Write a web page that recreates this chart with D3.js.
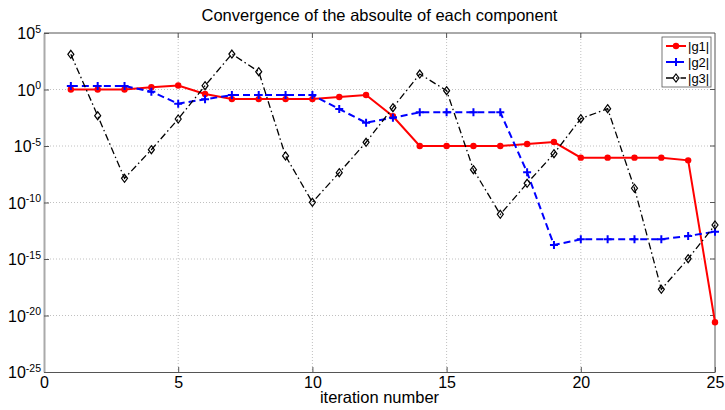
<!DOCTYPE html>
<html>
<head>
<meta charset="utf-8">
<script src="https://cdn.jsdelivr.net/npm/d3@7"></script>
<style>
  body { margin: 0; background: #fff; }
  svg { display: block; font-family: 'Liberation Sans', Arial, sans-serif; }
</style>
</head>
<body>
<svg id="chart" width="725" height="410"></svg>
<script>
const iterations = d3.range(1, 26);

// log10 of |g| per iteration
const g1Log = [0, 0, 0, 0.2, 0.35, -0.4, -0.85, -0.85, -0.85, -0.85, -0.66, -0.49,
  -2.37, -5, -5, -5, -5, -4.82, -4.65, -6.03, -6.03, -6.03, -6.03, -6.27, -20.6];
const g2Log = [0.31, 0.31, 0.31, -0.19, -1.25, -0.87, -0.49, -0.49, -0.49, -0.49, -1.73, -2.94,
  -2.5, -2.02, -2.02, -2.02, -2.02, -7.33, -13.76, -13.26, -13.26, -13.26, -13.26, -12.96, -12.58];
const g3Log = [3.11, -2.32, -7.86, -5.33, -2.61, 0.34, 3.14, 1.58, -5.88, -9.98, -7.36, -4.67,
  -1.61, 1.37, -0.1, -7.1, -11.05, -8.3, -5.68, -2.58, -1.7, -8.74, -17.68, -14.97, -11.99];

const xTicks = [0, 5, 10, 15, 20, 25];
const yTickExps = [5, 0, -5, -10, -15, -20, -25];
const seriesNames = ['|g1|', '|g2|', '|g3|'];

const margin = { top: 33, right: 10, bottom: 38, left: 44 };
const width = 725, height = 410;

const svg = d3.select('#chart');

const x = d3.scaleLinear().domain([0, 25]).range([margin.left, width - margin.right]);
const y = d3.scaleLog().domain([1e-25, 1e5]).range([height - margin.bottom, margin.top]);

const series = [
  { name: seriesNames[0], values: g1Log, color: '#ff0000', dash: null, width: 2, marker: 'dot' },
  { name: seriesNames[1], values: g2Log, color: '#0000ff', dash: '7,4', width: 2, marker: 'plus' },
  { name: seriesNames[2], values: g3Log, color: '#000000', dash: '7,3,1.5,3', width: 1.3, marker: 'diamond' },
];

// grid
const grid = svg.append('g').attr('stroke', '#b0b0b0').attr('stroke-width', 0.8).attr('stroke-dasharray', '1,2');
grid.selectAll('.gx').data(xTicks.slice(1, -1)).join('line')
  .attr('x1', (d) => x(d)).attr('x2', (d) => x(d))
  .attr('y1', y.range()[1]).attr('y2', y.range()[0]);
grid.selectAll('.gy').data(yTickExps.slice(1, -1)).join('line')
  .attr('x1', x.range()[0]).attr('x2', x.range()[1])
  .attr('y1', (d) => y(Math.pow(10, d))).attr('y2', (d) => y(Math.pow(10, d)));

// axes
const xAxis = svg.append('g').attr('transform', `translate(0,${y.range()[0]})`)
  .call(d3.axisBottom(x).tickValues(xTicks).tickSizeInner(-5).tickSizeOuter(0).tickPadding(5));
xAxis.select('.domain').attr('stroke', '#555');
xAxis.selectAll('.tick line').attr('stroke', '#555');
xAxis.selectAll('.tick text').attr('font-size', 16).attr('fill', '#000');

const yAxis = svg.append('g').attr('transform', `translate(${x.range()[0]},0)`)
  .call(d3.axisLeft(y).tickValues(yTickExps.map((e) => Math.pow(10, e))).tickSizeInner(-5).tickSizeOuter(0).tickFormat(''));
yAxis.select('.domain').attr('stroke', '#aaa').attr('stroke-width', 2);
yAxis.selectAll('.tick line').attr('stroke', '#555');
yAxis.selectAll('.tick text').remove();
yAxis.selectAll('.tick').each(function (d) {
  const t = d3.select(this).append('text')
    .attr('x', -3).attr('dy', '0.36em').attr('text-anchor', 'end').attr('fill', '#000').attr('font-size', 16);
  t.append('tspan').text('10');
  t.append('tspan').attr('dy', '-0.6em').attr('font-size', 10.5).text(Math.round(Math.log10(d)));
});

// top/right box
svg.append('line').attr('x1', x.range()[0]).attr('x2', x.range()[1])
  .attr('y1', y.range()[1]).attr('y2', y.range()[1]).attr('stroke', '#555');
svg.append('line').attr('x1', x.range()[1]).attr('x2', x.range()[1])
  .attr('y1', y.range()[1]).attr('y2', y.range()[0]).attr('stroke', '#555');
svg.append('g').selectAll('line').data(xTicks.slice(1, -1)).join('line')
  .attr('x1', (d) => x(d)).attr('x2', (d) => x(d))
  .attr('y1', y.range()[1]).attr('y2', y.range()[1] + 5).attr('stroke', '#555');
svg.append('g').selectAll('line').data(yTickExps.slice(1, -1)).join('line')
  .attr('x1', x.range()[1] - 5).attr('x2', x.range()[1])
  .attr('y1', (d) => y(Math.pow(10, d))).attr('y2', (d) => y(Math.pow(10, d))).attr('stroke', '#555');

function drawMarker(sel, s, px, py) {
  if (s.marker === 'dot') {
    sel.append('circle').attr('cx', px).attr('cy', py).attr('r', 3.2).attr('fill', s.color);
  } else if (s.marker === 'plus') {
    sel.append('path').attr('d', `M${px - 4},${py}H${px + 4}M${px},${py - 4}V${py + 4}`)
      .attr('stroke', s.color).attr('stroke-width', 2);
  } else {
    sel.append('path').attr('d', `M${px},${py - 4}L${px + 3},${py}L${px},${py + 4}L${px - 3},${py}Z`)
      .attr('fill', 'none').attr('stroke', s.color).attr('stroke-width', 1.2);
  }
}

const line = d3.line().x((d) => x(d[0])).y((d) => y(Math.pow(10, d[1])));

series.forEach((s) => {
  const pts = iterations.map((it, i) => [it, s.values[i]]);
  const g = svg.append('g');
  g.append('path').datum(pts).attr('d', line)
    .attr('fill', 'none').attr('stroke', s.color).attr('stroke-width', s.width)
    .attr('stroke-dasharray', s.dash);
  pts.forEach((p) => drawMarker(g, s, x(p[0]), y(Math.pow(10, p[1]))));
});

// legend
const legend = svg.append('g').attr('transform', 'translate(662,37)');
legend.append('rect').attr('width', 49).attr('height', 50)
  .attr('fill', '#fff').attr('stroke', '#555').attr('stroke-width', 0.8);
series.forEach((s, i) => {
  const ly = 9 + i * 16;
  const row = legend.append('g');
  row.append('line').attr('x1', 4).attr('x2', 24).attr('y1', ly).attr('y2', ly)
    .attr('stroke', s.color).attr('stroke-width', s.width).attr('stroke-dasharray', s.dash);
  drawMarker(row, s, 14, ly);
  row.append('text').attr('x', 26).attr('y', ly).attr('dy', '0.36em')
    .attr('font-size', 13).attr('fill', '#000').text(s.name);
});

// title and label
svg.append('text').attr('x', (x.range()[0] + x.range()[1]) / 2).attr('y', 21)
  .attr('text-anchor', 'middle').attr('font-size', 16.5).attr('fill', '#000')
  .text('Convergence of the absoulte of each component');
svg.append('text').attr('x', (x.range()[0] + x.range()[1]) / 2).attr('y', 403)
  .attr('text-anchor', 'middle').attr('font-size', 16.5).attr('fill', '#000')
  .text('iteration number');
</script>
</body>
</html>
